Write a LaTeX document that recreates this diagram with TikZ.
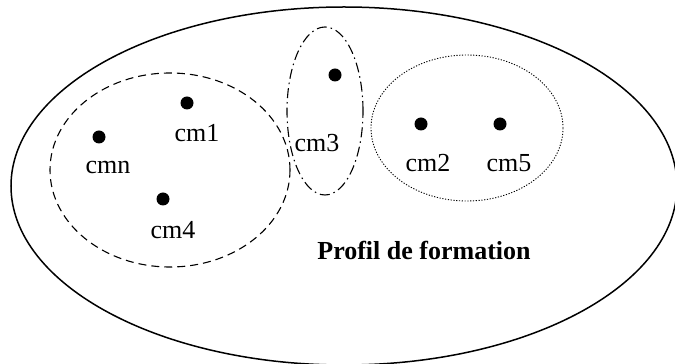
\documentclass[tikz,border=0pt]{standalone}
\usepackage{fontspec}
\setmainfont{Liberation Serif}
\begin{document}
\begin{tikzpicture}[x=1pt,y=1pt,
                    pt/.style={circle,fill=black,inner sep=0pt,minimum size=13pt},
                    lbl/.style={font=\fontsize{26}{30}\selectfont},
                    grp/.style={line width=1.1pt}]
                    \useasboundingbox (0,0) rectangle (675,364);
                    \coordinate (profil) at (344,178);
                    \coordinate (gA) at (170,194);
                    \coordinate (gB) at (325,253);
                    \coordinate (gC) at (467,236);
                    \draw [black,line width=1.5pt] (profil) ellipse [x radius=333,y radius=179];
                    \draw [grp,dash pattern=on 8pt off 5pt] (gA) ellipse [x radius=120,y radius=97];
                    \draw [grp,dash pattern=on 10pt off 4pt on 1.5pt off 4pt] (gB) ellipse [x radius=38,y radius=84];
                    \draw [grp,line width=0.9pt,dash pattern=on 1.2pt off 1.6pt] (gC) ellipse [x radius=96,y radius=73];
                    \node [pt] (cm1) at (187,261) {};
                    \node [pt] (cmn) at (99,227) {};
                    \node [pt] (cm4) at (163,165) {};
                    \node [pt] (cm3) at (335,289) {};
                    \node [pt] (cm2) at (421,240) {};
                    \node [pt] (cm5) at (500,240) {};
                    \node [lbl] (cm1lab) at (197,231) {cm1};
                    \node [lbl] (cmnlab) at (108,196) {cmn};
                    \node [lbl] (cm4lab) at (173,134) {cm4};
                    \node [lbl] (cm3lab) at (317,221) {cm3};
                    \node [lbl] (cm2lab) at (428,201) {cm2};
                    \node [lbl] (cm5lab) at (509,201) {cm5};
                    \node [lbl] (titre) at (424,114)
                    {\textbf{Profil de formation}};
                \end{tikzpicture}
\end{document}
